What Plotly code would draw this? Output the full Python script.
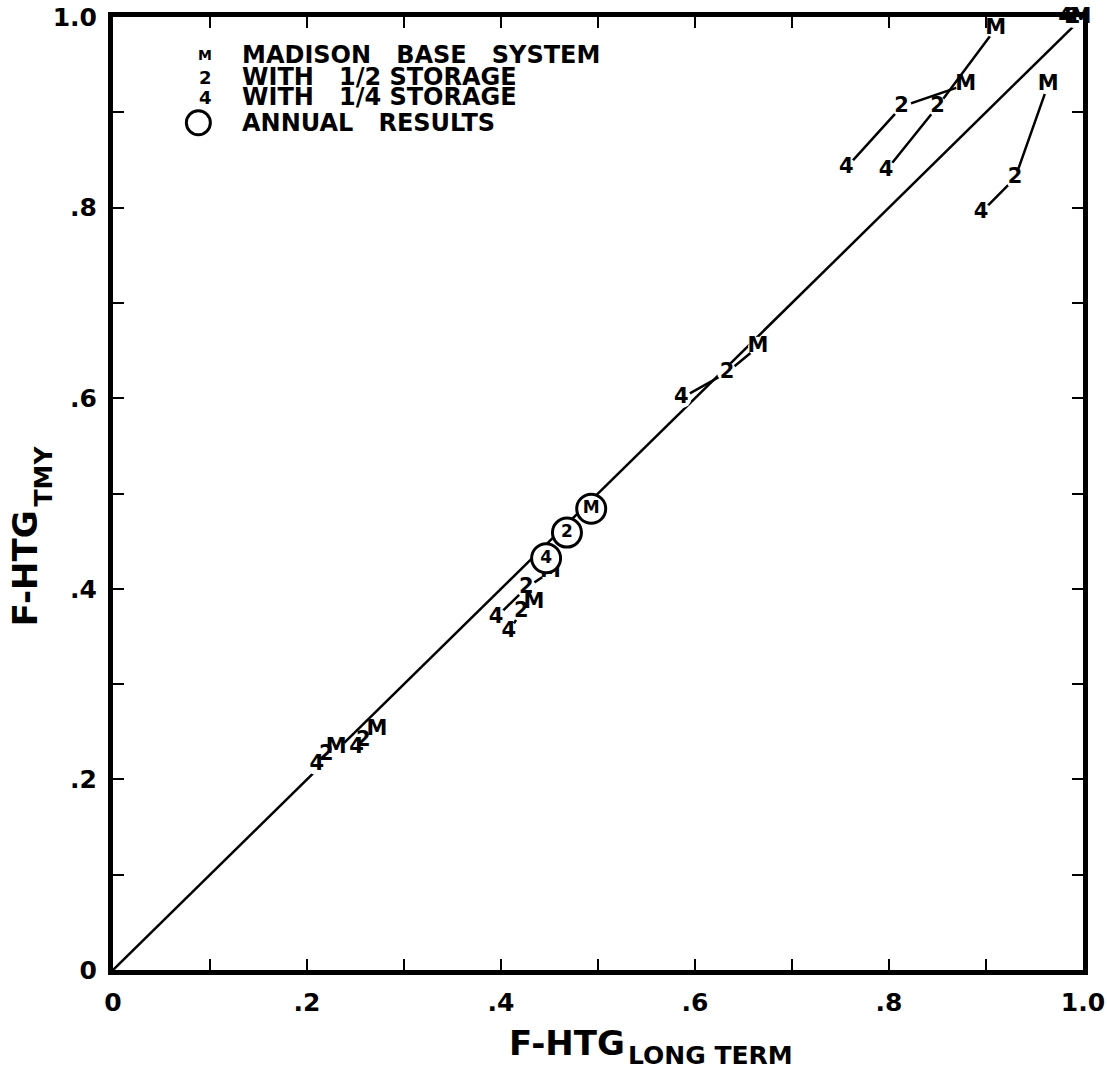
import plotly.graph_objects as go

# Solar-fraction comparison: F-HTG from TMY weather vs. long-term weather.
# Each case is a chain of three systems: 1/4 storage, 1/2 storage, Madison base.
case_names = ["A", "B", "C", "D", "E", "F", "G", "H", "I"]
x_quarter = [0.756, 0.797, 0.895, 0.982, 0.586, 0.395, 0.408, 0.210, 0.251]
y_quarter = [0.842, 0.839, 0.795, 0.999, 0.600, 0.370, 0.355, 0.215, 0.233]
x_half = [0.813, 0.850, 0.930, 0.990, 0.633, 0.426, 0.421, 0.220, 0.258]
y_half = [0.906, 0.906, 0.831, 0.999, 0.627, 0.401, 0.376, 0.226, 0.241]
x_base = [0.879, 0.910, 0.964, 0.998, 0.665, 0.451, 0.434, 0.230, 0.272]
y_base = [0.929, 0.988, 0.929, 0.999, 0.654, 0.418, 0.385, 0.233, 0.252]

# Annual results (circled)
annual_x = [0.4465, 0.468, 0.493]
annual_y = [0.432, 0.459, 0.484]
annual_labels = ["4", "2", "M"]

chain_labels = ["4", "2", "M"]

FONT = "DejaVu Sans"
INK = "black"
SP = "&nbsp;&nbsp;&nbsp;"

fig = go.Figure()

# 1:1 reference line
fig.add_trace(go.Scatter(x=[0, 1], y=[0, 1], mode="lines",
                         line=dict(color=INK, width=2.5),
                         hoverinfo="skip", showlegend=False))

# Chains of results for each case
for i, name in enumerate(case_names):
    xs = [x_quarter[i], x_half[i], x_base[i]]
    ys = [y_quarter[i], y_half[i], y_base[i]]
    fig.add_trace(go.Scatter(
        x=xs, y=ys, mode="lines+markers+text", name=name,
        text=chain_labels, textposition="middle center",
        textfont=dict(family=FONT, size=21, color=INK, weight="bold"),
        line=dict(color=INK, width=2.5),
        marker=dict(size=20, color="white", line=dict(width=0)),
        cliponaxis=False, showlegend=False))

# Annual results, circled
fig.add_trace(go.Scatter(
    x=annual_x, y=annual_y, mode="markers+text", text=annual_labels,
    textposition="middle center",
    textfont=dict(family=FONT, size=17, color=INK, weight="bold"),
    marker=dict(size=29, color="white", line=dict(color=INK, width=3)),
    cliponaxis=False, showlegend=False))

# Key, lettered inside the plot
key_rows = [
    ("M", "MADISON" + SP + "BASE" + SP + "SYSTEM", 0.960, 14),
    ("2", "WITH" + SP + "1/2 STORAGE", 0.937, 18),
    ("4", "WITH" + SP + "1/4 STORAGE", 0.916, 18),
]
for sym, label, yy, sz in key_rows:
    fig.add_annotation(x=0.095, y=yy, text=sym, showarrow=False,
                       xanchor="center", yanchor="middle",
                       font=dict(family=FONT, size=sz, color=INK, weight="bold"))
    fig.add_annotation(x=0.131, y=yy, text=label, showarrow=False,
                       xanchor="left", yanchor="middle",
                       font=dict(family=FONT, size=24, color=INK, weight="bold"))
fig.add_trace(go.Scatter(x=[0.088], y=[0.889], mode="markers",
                         marker=dict(size=24, color="white", line=dict(color=INK, width=3)),
                         hoverinfo="skip", showlegend=False))
fig.add_annotation(x=0.131, y=0.889, text="ANNUAL" + SP + "RESULTS", showarrow=False,
                   xanchor="left", yanchor="middle",
                   font=dict(family=FONT, size=24, color=INK, weight="bold"))

# Axis titles with hand-sized subscripts
title_font = dict(family=FONT, size=34, color=INK, weight="bold")
sub_font = dict(family=FONT, size=25, color=INK, weight="bold")
fig.add_annotation(xref="paper", yref="paper", x=0.4064, y=-0.0766, text="F-HTG",
                   showarrow=False, xanchor="left", yanchor="middle", font=title_font)
fig.add_annotation(xref="paper", yref="paper", x=0.529, y=-0.090, text="LONG TERM",
                   showarrow=False, xanchor="left", yanchor="middle", font=sub_font)
fig.add_annotation(xref="paper", yref="paper", x=-0.0905, y=0.4218, text="F-HTG",
                   textangle=-90, showarrow=False, xanchor="center", yanchor="middle",
                   font=title_font)
fig.add_annotation(xref="paper", yref="paper", x=-0.072, y=0.518, text="TMY",
                   textangle=-90, showarrow=False, xanchor="center", yanchor="middle",
                   font=sub_font)

tick_vals = [i / 10 for i in range(11)]
x_tick_text = ["0", "", ".2", "", ".4", "", ".6", "", ".8", "", "1.0"]
y_tick_text = ["0", "", ".2", "", ".4", "", ".6", "", ".8", "", "1.0"]

axis_common = dict(
    range=[0, 1], tickvals=tick_vals, ticks="inside", ticklen=11, tickwidth=2,
    tickcolor=INK, showline=True, linewidth=5, linecolor=INK, mirror="allticks",
    showgrid=False, zeroline=False, automargin=False, ticklabeloverflow="allow",
    tickfont=dict(family=FONT, size=25, color=INK, weight="bold"),
)

fig.update_xaxes(**axis_common, ticktext=x_tick_text, ticklabelstandoff=6)
fig.update_yaxes(**axis_common, ticktext=y_tick_text, ticklabelstandoff=6)

fig.update_layout(
    width=1107, height=1073,
    margin=dict(l=113, r=24, t=17, b=103),
    paper_bgcolor="white", plot_bgcolor="white",
    showlegend=False,
)

fig.write_html("out.html")
